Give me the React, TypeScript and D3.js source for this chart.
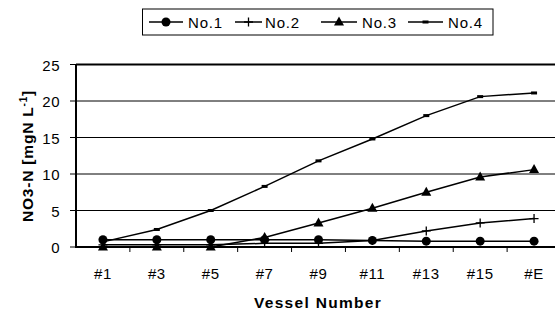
import React from "react";
import * as d3 from "d3";

const categories = ["#1", "#3", "#5", "#7", "#9", "#11", "#13", "#15", "#E"];
const no1 = [1.0, 1.0, 1.0, 1.0, 1.0, 0.9, 0.8, 0.8, 0.8];
const no2 = [0.3, 0.3, 0.3, 0.5, 0.5, 0.9, 2.2, 3.3, 3.9];
const no3 = [0.0, 0.0, 0.0, 1.3, 3.3, 5.3, 7.5, 9.6, 10.6];
const no4 = [0.7, 2.4, 5.0, 8.3, 11.8, 14.8, 18.0, 20.6, 21.1];
const yTicks = [0, 5, 10, 15, 20, 25];
const seriesNames = ["No.1", "No.2", "No.3", "No.4"];

const W = 555, H = 313;
const left = 76, right = 561, top = 64.5, bottom = 247;

export default function App() {
  const x = d3.scaleBand().domain(categories).range([left, right]);
  const y = d3.scaleLinear().domain([0, 25]).range([bottom, top]);
  const cx = (c: string) => (x(c) as number) + x.bandwidth() / 2;
  const line = d3.line<number>().x((_, i) => cx(categories[i])).y((d) => y(d));
  const series = [no1, no2, no3, no4];
  const font = "'Liberation Sans', Arial, sans-serif";

  const marker = (k: number, px: number, py: number, key: string) => {
    if (k === 0) return <circle key={key} cx={px} cy={py} r={4.5} fill="#000" />;
    if (k === 1)
      return (
        <path key={key} d={`M${px - 4.5},${py}H${px + 4.5}M${px},${py - 4.5}V${py + 4.5}`} stroke="#000" strokeWidth={1.3} />
      );
    if (k === 2)
      return <path key={key} d={`M${px},${py - 5.5}L${px + 5},${py + 3.5}L${px - 5},${py + 3.5}Z`} fill="#000" />;
    return <rect key={key} x={px - 3} y={py - 1.5} width={6} height={3} fill="#000" />;
  };

  const legendItems = [
    { x1: 149, x2: 183, tx: 188 },
    { x1: 235, x2: 262, tx: 265 },
    { x1: 321, x2: 357, tx: 362 },
    { x1: 408, x2: 443, tx: 448 },
  ];

  return (
    <svg width={W} height={H} style={{ position: "absolute", left: 0, top: 0, background: "#fff" }} fontFamily={font}>
      {/* gridlines */}
      {yTicks.slice(1, 5).map((t) => (
        <line key={t} x1={left} x2={right} y1={y(t)} y2={y(t)} stroke="#000" strokeWidth={1} />
      ))}
      <line x1={left} x2={right} y1={top} y2={top} stroke="#000" strokeWidth={2} />
      {/* axes */}
      <line x1={left} x2={left} y1={top} y2={bottom} stroke="#000" strokeWidth={2} />
      <line x1={left - 1} x2={right} y1={bottom} y2={bottom} stroke="#000" strokeWidth={2} />
      {yTicks.map((t) => (
        <g key={t}>
          <line x1={left - 6} x2={left} y1={y(t)} y2={y(t)} stroke="#000" strokeWidth={1} />
          <text x={left - 16} y={y(t) + 6} textAnchor="end" fontSize={15} letterSpacing={0.5}>
            {t}
          </text>
        </g>
      ))}
      {categories.map((c, i) => (
        <g key={c}>
          {i > 0 && (
            <line x1={x(c)} x2={x(c)} y1={bottom} y2={bottom + 5} stroke="#000" strokeWidth={1} />
          )}
          <text x={cx(c)} y={278.5} textAnchor="middle" fontSize={15} letterSpacing={0.6}>
            {c}
          </text>
        </g>
      ))}
      {/* series */}
      {series.map((s, k) => (
        <g key={k}>
          <path d={line(s) || ""} fill="none" stroke="#000" strokeWidth={1.5} />
          {s.map((v, i) => marker(k, cx(categories[i]), y(v), `${k}-${i}`))}
        </g>
      ))}
      {/* axis titles */}
      <text x={318} y={308} textAnchor="middle" fontSize={15.5} fontWeight="bold" letterSpacing={1.3}>
        Vessel Number
      </text>
      <text transform={`translate(33,156) rotate(-90)`} textAnchor="middle" fontSize={15.5} fontWeight="bold" letterSpacing={0.8}>
        NO3-N [mgN L
        <tspan dy={-6} fontSize={10}>-1</tspan>
        <tspan dy={6}>]</tspan>
      </text>
      {/* legend */}
      <rect x={142.5} y={9} width={350.5} height={26} fill="#fff" stroke="#000" strokeWidth={1} />
      {legendItems.map((it, k) => (
        <g key={k}>
          <line x1={it.x1} x2={it.x2} y1={22} y2={22} stroke="#000" strokeWidth={1.5} />
          {marker(k, (it.x1 + it.x2) / 2, 22, `l${k}`)}
          <text x={it.tx} y={27.5} fontSize={15} letterSpacing={0.8}>
            {seriesNames[k]}
          </text>
        </g>
      ))}
    </svg>
  );
}
